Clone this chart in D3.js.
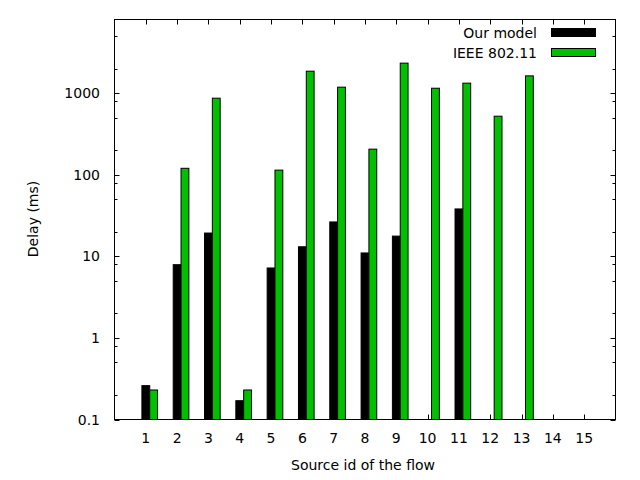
<!DOCTYPE html>
<html>
<head>
<meta charset="utf-8">
<script src="https://cdn.jsdelivr.net/npm/d3@7"></script>
<style>
  html, body { margin: 0; padding: 0; background: #fff; }
  svg text { font-family: "DejaVu Sans", sans-serif; font-size: 14px; fill: #000; }
</style>
</head>
<body>
<svg id="chart" width="640" height="480"></svg>
<script>
// ---- data ----
const categories = [1, 2, 3, 4, 5, 6, 7, 8, 9, 10, 11, 12, 13, 14, 15];
const ourModel = [0.26, 7.9, 19.3, 0.17, 7.2, 13.1, 26.4, 11.0, 17.7, null, 38.1, null, null, null, null];
const ieee80211 = [0.23, 120, 868, 0.23, 114, 1860, 1185, 206, 2335, 1150, 1327, 522, 1630, null, null];
const seriesNames = ["Our model", "IEEE 802.11"];
const yTickValues = [0.1, 1, 10, 100, 1000];
const yTickLabels = ["0.1", "1", "10", "100", "1000"];
const yMinorMultipliers = [2, 5, 8];
const xTitle = "Source id of the flow";
const yTitle = "Delay (ms)";

// ---- layout ----
const svg = d3.select("#chart");
const L = 114.5, R = 615.5, T = 19.5, B = 419.5;
const x = d3.scaleLinear().domain([0, 16]).range([L, R]);
const y = d3.scaleLog().domain([0.1, 8000]).range([B, T]);
const boxW = 0.25;
const colors = ["#000000", "#00c000"];
const series = [ourModel, ieee80211];

// bars
series.forEach((vals, si) => {
  const data = categories.map((c, i) => ({ c, v: vals[i] })).filter(d => d.v != null);
  svg.append("g").selectAll("rect").data(data).enter().append("rect")
    .attr("x", d => x(d.c - boxW / 2 + si * boxW))
    .attr("width", d => x(d.c + boxW / 2 + si * boxW) - x(d.c - boxW / 2 + si * boxW))
    .attr("y", d => y(d.v))
    .attr("height", d => B - y(d.v))
    .attr("fill", colors[si])
    .attr("stroke", "#000")
    .attr("stroke-width", 1);
});

// frame
svg.append("rect").attr("x", L).attr("y", T).attr("width", R - L).attr("height", B - T)
  .attr("fill", "none").attr("stroke", "#000").attr("stroke-width", 1);

const tickG = svg.append("g").attr("stroke", "#000").attr("stroke-width", 1);
const major = 5, minor = 3;

// y major ticks (left + right mirror)
yTickValues.forEach(v => {
  const yy = Math.round(y(v)) + 0.5;
  tickG.append("line").attr("x1", L).attr("x2", L + major).attr("y1", yy).attr("y2", yy);
  tickG.append("line").attr("x1", R).attr("x2", R - major).attr("y1", yy).attr("y2", yy);
});
// y minor ticks
yTickValues.forEach(v => {
  yMinorMultipliers.forEach(m => {
    const val = v * m;
    if (val >= 8000) return;
    const yy = Math.round(y(val)) + 0.5;
    tickG.append("line").attr("x1", L).attr("x2", L + minor).attr("y1", yy).attr("y2", yy);
    tickG.append("line").attr("x1", R).attr("x2", R - minor).attr("y1", yy).attr("y2", yy);
  });
});
// x ticks (bottom + top mirror)
categories.forEach(c => {
  const xx = Math.round(x(c)) + 0.5;
  tickG.append("line").attr("x1", xx).attr("x2", xx).attr("y1", B).attr("y2", B - major);
  tickG.append("line").attr("x1", xx).attr("x2", xx).attr("y1", T).attr("y2", T + major);
});

// y tick labels
svg.append("g").selectAll("text").data(yTickValues).enter().append("text")
  .attr("x", 100).attr("y", d => y(d) + 5)
  .attr("text-anchor", "end")
  .text((d, i) => yTickLabels[i]);

// x tick labels
svg.append("g").selectAll("text").data(categories).enter().append("text")
  .attr("x", d => x(d)).attr("y", 443)
  .attr("text-anchor", "middle")
  .text(d => String(d));

// axis titles
svg.append("text").attr("x", 363).attr("y", 470).attr("text-anchor", "middle").text(xTitle);
svg.append("text").attr("transform", "translate(38,219) rotate(-90)")
  .attr("text-anchor", "middle").text(yTitle);

// legend
const legendY = [32.5, 52.5];
seriesNames.forEach((name, i) => {
  svg.append("text").attr("x", 537).attr("y", legendY[i] + 5)
    .attr("text-anchor", "end").text(name);
  svg.append("rect").attr("x", 551.5).attr("y", legendY[i] - 4).attr("width", 44).attr("height", 8)
    .attr("fill", colors[i]).attr("stroke", "#000").attr("stroke-width", 1);
});
</script>
</body>
</html>
